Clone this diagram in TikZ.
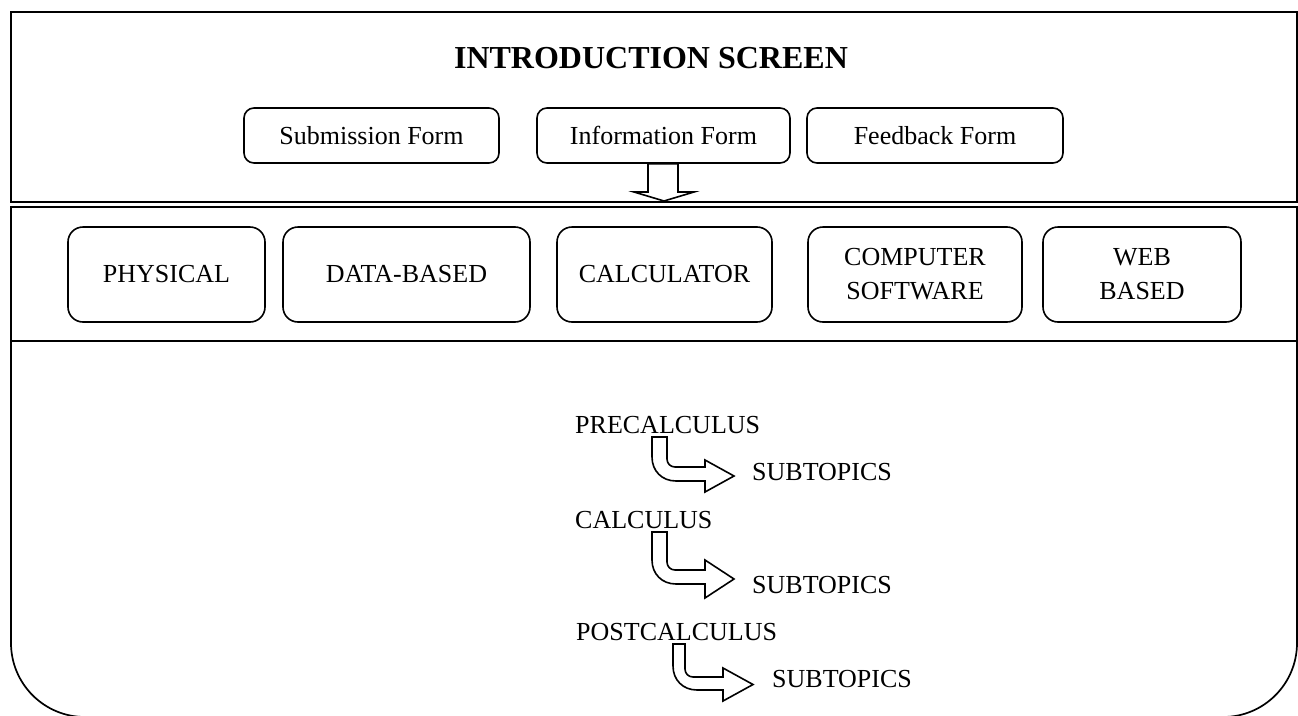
\documentclass[tikz,border=0pt]{standalone}
\usepackage{fontspec}
\setmainfont{Liberation Serif}
\newcommand\bentarr[9]{%
  % #1 xl, #2 xr, #3 top, #4 shaft top, #5 shaft bottom, #6 head base x, #7 head top, #8 head bottom, #9 tip x
  \draw[hollow] (#1,#3) -- (#2,#3) -- (#2,#4-8)
    .. controls (#2,#4-3.5) and (#2+3.5,#4) .. (#2+8,#4)
    -- (#6,#4) -- (#6,#7) -- (#9,{(#7+#8)/2}) -- (#6,#8) -- (#6,#5)
    -- (#1+24,#5)
    .. controls (#1+10,#5) and (#1,#5-10) .. (#1,#5-24)
    -- cycle;}
\begin{document}
\begin{tikzpicture}[x=1pt,y=-1pt,
  frame/.style={line width=1.7pt},
  formbox/.style={draw, line width=1.6pt, rounded corners=10pt, minimum height=55pt, inner sep=0pt, font=\fontsize{26}{32}\selectfont},
  catbox/.style={draw, line width=1.6pt, rounded corners=15pt, minimum height=95pt, align=center, inner sep=0pt, font=\fontsize{26}{34}\selectfont},
  lbl/.style={inner sep=0pt, anchor=west, font=\fontsize{26}{32}\selectfont},
  hollow/.style={draw, line width=1.6pt, fill=white, line join=miter}]
\useasboundingbox (0,0) rectangle (1298,715);
\clip (0,0) rectangle (1298,715);
\fill[white] (0,0) rectangle (1298,715);
% frames
\draw[frame] (11,12) rectangle (1297,202);
\draw[frame] (11,207) rectangle (1297,341);
\draw[frame, rounded corners=74pt] (11,341) -- (11,717) -- (1297,717) -- (1297,341);
% title and forms
\node[inner sep=0pt, font=\fontsize{32}{38}\selectfont\bfseries] (title) at (651,58) {INTRODUCTION SCREEN};
\node[formbox, minimum width=255pt] (sub) at (371.5,135.5) {Submission Form};
\node[formbox, minimum width=253pt] (info) at (663.5,135.5) {Information Form};
\node[formbox, minimum width=256pt] (feed) at (935,135.5) {Feedback Form};
% down arrow
\draw[hollow] ([xshift=-15.5pt]info.south) -- ([xshift=14.5pt]info.south) -- (678,192) -- (694,192) -- (664,201) -- (634,192) -- (648,192) -- cycle;
% categories
\node[catbox, minimum width=197pt] (phys) at (166.5,274.5) {PHYSICAL};
\node[catbox, minimum width=247pt] (data) at (406.5,274.5) {DATA-BASED};
\node[catbox, minimum width=215pt] (calc) at (664.5,274.5) {CALCULATOR};
\node[catbox, minimum width=214pt] (comp) at (915,274.5) {COMPUTER\\SOFTWARE};
\node[catbox, minimum width=198pt] (web) at (1142,274.5) {WEB\\BASED};
% topics
\node[lbl] (pre) at (575,425) {PRECALCULUS};
\node[lbl] (st1) at (752,472) {SUBTOPICS};
\node[lbl] (cal) at (575,520) {CALCULUS};
\node[lbl] (st2) at (752,585) {SUBTOPICS};
\node[lbl] (post) at (576,632) {POSTCALCULUS};
\node[lbl] (st3) at (772,679) {SUBTOPICS};
% bent arrows
\bentarr{652}{667}{437}{467}{481}{705}{460}{492}{734}
\bentarr{652}{667}{532}{570}{584}{705}{560}{598}{734}
\bentarr{673}{685}{644}{677}{690}{723}{668}{701}{753}
\end{tikzpicture}
\end{document}
